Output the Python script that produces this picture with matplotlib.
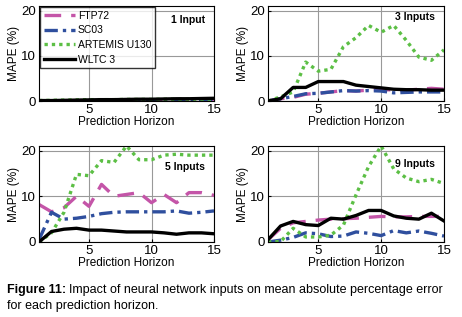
import matplotlib.pyplot as plt
import numpy as np
from matplotlib import font_manager

plt.rcParams["font.family"] = ["Liberation Sans", "DejaVu Sans"]
names = {f.name for f in font_manager.fontManager.ttflist}
narrow = "Liberation Sans Narrow" if "Liberation Sans Narrow" in names else "Liberation Sans"

horizon = np.arange(1, 16)
series_names = ["FTP72", "SC03", "ARTEMIS U130", "WLTC 3"]
panel_titles = ["1 Input", "3 Inputs", "5 Inputs", "9 Inputs"]

# MAPE (%) per panel, order: FTP72, SC03, ARTEMIS U130, WLTC 3
mape_1 = [
    [0.05, 0.05, 0.05, 0.1, 0.1, 0.1, 0.1, 0.1, 0.1, 0.1, 0.1, 0.1, 0.1, 0.1, 0.1],
    [0.05, 0.05, 0.05, 0.05, 0.1, 0.1, 0.1, 0.1, 0.1, 0.1, 0.1, 0.1, 0.1, 0.1, 0.1],
    [0.1, 0.15, 0.2, 0.25, 0.3, 0.3, 0.3, 0.35, 0.35, 0.35, 0.4, 0.4, 0.4, 0.4, 0.4],
    [0.1, 0.1, 0.15, 0.2, 0.25, 0.3, 0.3, 0.35, 0.4, 0.4, 0.45, 0.5, 0.5, 0.55, 0.6],
]
mape_3 = [
    [0.0, 0.5, 0.8, 1.5, 1.7, 2.0, 2.3, 2.2, 2.4, 2.6, 2.4, 2.4, 2.6, 2.8, 2.6],
    [0.0, 0.5, 1.0, 1.6, 1.7, 2.0, 2.3, 2.2, 2.3, 2.2, 1.8, 1.9, 2.0, 2.0, 2.0],
    [0.0, 0.9, 2.0, 8.6, 6.6, 7.0, 12.0, 14.0, 16.7, 15.2, 16.7, 13.4, 9.7, 9.0, 11.3],
    [0.0, 0.5, 3.0, 3.0, 4.3, 4.3, 4.3, 3.5, 3.2, 2.9, 2.6, 2.5, 2.5, 2.4, 2.4],
]
mape_5 = [
    [8.2, 6.6, 7.5, 10.0, 7.8, 12.6, 10.0, 10.4, 10.8, 8.6, 10.4, 8.6, 10.8, 10.8, 10.2],
    [0.5, 6.5, 5.0, 5.2, 5.6, 6.2, 6.5, 6.6, 6.6, 6.6, 6.6, 6.8, 6.3, 6.5, 6.8],
    [0.0, 2.0, 6.5, 14.8, 14.5, 17.8, 17.4, 21.0, 18.0, 18.0, 19.0, 19.2, 19.0, 19.0, 19.0],
    [0.0, 2.3, 2.8, 3.0, 2.6, 2.6, 2.4, 2.2, 2.2, 2.2, 2.0, 1.7, 2.0, 2.0, 1.8],
]
mape_9 = [
    [0.5, 3.0, 4.2, 4.5, 4.8, 5.0, 5.1, 5.2, 5.4, 5.6, 5.5, 5.5, 5.6, 5.6, 5.6],
    [0.0, 0.4, 1.0, 2.0, 1.8, 1.2, 1.3, 2.2, 1.9, 1.4, 2.5, 2.0, 2.4, 1.9, 1.3],
    [0.0, 0.1, 3.0, 1.1, 1.1, 1.5, 3.7, 10.3, 16.5, 21.0, 16.0, 14.0, 13.2, 13.7, 12.8],
    [0.5, 3.5, 4.5, 3.8, 3.6, 5.2, 5.0, 5.8, 6.9, 6.9, 5.7, 5.2, 5.0, 6.3, 4.6],
]
panels = [mape_1, mape_3, mape_5, mape_9]

colors = ["#c455a8", "#2f4f9e", "#5cbf45", "#000000"]
styles = [dict(linestyle=(0, (5, 3))),
          dict(linestyle=(0, (4, 1.5, 1, 1.5))),
          dict(linestyle=(0, (1, 1.2))),
          dict(linestyle="-")]

W, H = 462, 317
fig = plt.figure(figsize=(W / 100, H / 100), dpi=100)
boxes = [(39, 6, 175, 95), (268, 6, 176, 95), (39, 146, 175, 96), (268, 146, 176, 96)]
title_y = [0.85, 0.88, 0.78, 0.81]

for i, (data, title, (x, y, w, h)) in enumerate(zip(panels, panel_titles, boxes)):
    ax = fig.add_axes([x / W, 1 - (y + h) / H, w / W, h / H])
    for vals, name, c, st in zip(data, series_names, colors, styles):
        ax.plot(horizon, vals, color=c, linewidth=2.4, label=name, **st)
    ax.set_xlim(1, 15)
    ax.set_ylim(0, 21)
    ax.set_xticks([5, 10, 15])
    ax.set_yticks([0, 10, 20])
    ax.grid(color="#999999", linewidth=0.8)
    ax.tick_params(direction="in", length=2, pad=2)
    for lab in ax.get_xticklabels() + ax.get_yticklabels():
        lab.set_family(narrow)
        lab.set_fontsize(9.5)
    ax.set_xlabel("Prediction Horizon", fontsize=8.5, family=narrow, labelpad=0)
    ax.set_ylabel("MAPE (%)", fontsize=8.5, family=narrow, labelpad=1)
    for s in ax.spines.values():
        s.set_color("black")
        s.set_linewidth(0.8)
    ax.text(0.95, title_y[i], title, transform=ax.transAxes, ha="right", va="center",
            fontsize=7.5, fontweight="bold")
    if i == 0:
        ax.legend(loc="upper left", prop={"size": 7.5}, handlelength=3.0, borderpad=0.35,
                  labelspacing=0.45, handletextpad=0.3, borderaxespad=0.1,
                  frameon=True, fancybox=False, edgecolor="black")

t = fig.text(7 / W, 1 - 290 / H, "Figure 11:", fontsize=9, fontweight="bold", va="center")
fig.text(7 / W, 1 - 306 / H, "for each prediction horizon.", fontsize=9, va="center")
fig.canvas.draw()
bb = t.get_window_extent()
fig.text((bb.x1 + 3) / W, 1 - 290 / H,
         "Impact of neural network inputs on mean absolute percentage error",
         fontsize=9, va="center")

fig.savefig("out.png", dpi=100)
